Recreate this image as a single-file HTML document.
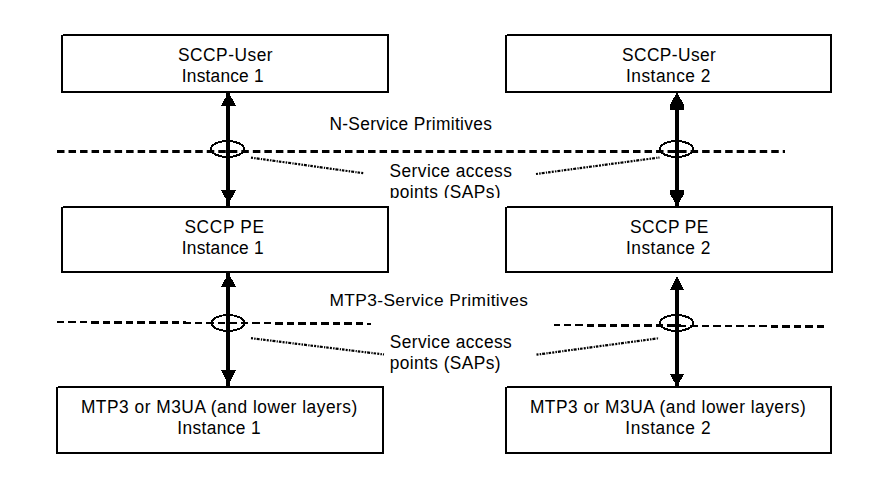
<!DOCTYPE html>
<html><head><meta charset="utf-8"><style>
html,body{margin:0;padding:0;background:#fff;}
body{width:883px;height:492px;overflow:hidden;position:relative;}
svg{position:absolute;left:0;top:0;}
text{font-family:"Liberation Sans",sans-serif;font-size:17.33px;fill:#000;}
</style></head><body>
<svg width="883" height="492" viewBox="0 0 883 492">
<defs><clipPath id="c1"><rect x="380" y="180" width="140" height="18"/></clipPath></defs>
<rect x="62" y="35" width="326" height="57" fill="none" stroke="#000" stroke-width="2"/>
<rect x="506" y="35" width="325" height="57" fill="none" stroke="#000" stroke-width="2"/>
<rect x="62" y="207" width="326" height="65" fill="none" stroke="#000" stroke-width="2"/>
<rect x="506" y="207" width="326" height="65" fill="none" stroke="#000" stroke-width="2"/>
<rect x="57" y="387" width="326" height="66" fill="none" stroke="#000" stroke-width="2"/>
<rect x="506" y="387" width="325" height="66" fill="none" stroke="#000" stroke-width="2"/>
<rect x="61" y="34" width="2" height="1" fill="#fff"/>
<rect x="505" y="34" width="2" height="1" fill="#fff"/>
<rect x="61" y="206" width="2" height="1" fill="#fff"/>
<rect x="505" y="206" width="2" height="1" fill="#fff"/>
<rect x="56" y="386" width="2" height="1" fill="#fff"/>
<rect x="505" y="386" width="2" height="1" fill="#fff"/>
<rect x="226" y="93" width="4" height="113" fill="#000"/>
<rect x="675" y="105" width="4" height="101" fill="#000"/>
<rect x="226" y="273" width="4" height="113" fill="#000"/>
<rect x="675" y="289" width="4" height="97" fill="#000"/>
<polygon points="221,106 236,106 228.5,92" fill="#000" shape-rendering="crispEdges"/>
<polygon points="221,190 236,190 228.5,204" fill="#000" shape-rendering="crispEdges"/>
<polygon points="670,110 684,110 684,105 677,92 670,105" fill="#000" shape-rendering="crispEdges"/>
<polygon points="670,190 684,190 684,194 677,206 670,194" fill="#000" shape-rendering="crispEdges"/>
<polygon points="221,287 236,287 228.5,273" fill="#000" shape-rendering="crispEdges"/>
<polygon points="221,370 236,370 228.5,385" fill="#000" shape-rendering="crispEdges"/>
<polygon points="670,290 684,290 677,276" fill="#000" shape-rendering="crispEdges"/>
<polygon points="670,374 684,374 677,387" fill="#000" shape-rendering="crispEdges"/>
<line x1="57" y1="151.5" x2="785" y2="151.5" stroke="#000" stroke-width="3" stroke-dasharray="7.5 4.02"/>
<line x1="57" y1="322.06" x2="371" y2="323.79" stroke="#000" stroke-width="2.53" stroke-dasharray="7.5 4" shape-rendering="crispEdges"/>
<line x1="554" y1="325.07" x2="824" y2="326.56" stroke="#000" stroke-width="2.53" stroke-dasharray="7.5 4" stroke-dashoffset="1.7" shape-rendering="crispEdges"/>
<ellipse cx="227.5" cy="149" rx="16.5" ry="8" fill="none" stroke="#000" stroke-width="2" shape-rendering="crispEdges"/>
<ellipse cx="676.5" cy="149" rx="16.5" ry="8" fill="none" stroke="#000" stroke-width="2" shape-rendering="crispEdges"/>
<ellipse cx="228" cy="323" rx="16.5" ry="8" fill="none" stroke="#000" stroke-width="2" shape-rendering="crispEdges"/>
<ellipse cx="676.5" cy="323" rx="16.5" ry="8" fill="none" stroke="#000" stroke-width="2" shape-rendering="crispEdges"/>
<line x1="251" y1="157.6" x2="364" y2="173.3" stroke="#000" stroke-width="2.2" stroke-dasharray="2 1.2 1.5 1 3 1.3 1.2 1 2.5 1.2"/>
<line x1="536" y1="174" x2="659.5" y2="157.5" stroke="#000" stroke-width="2.2" stroke-dasharray="2 1.2 1.5 1 3 1.3 1.2 1 2.5 1.2"/>
<line x1="251" y1="338.2" x2="384" y2="354.5" stroke="#000" stroke-width="2.2" stroke-dasharray="2 1.2 1.5 1 3 1.3 1.2 1 2.5 1.2"/>
<line x1="536.5" y1="354.7" x2="659" y2="338.2" stroke="#000" stroke-width="2.2" stroke-dasharray="2 1.2 1.5 1 3 1.3 1.2 1 2.5 1.2"/>
<text transform="translate(177.9 61.0) scale(1 1.06)" letter-spacing="0.53">SCCP-User</text>
<text transform="translate(181.8 81.6) scale(1 1.06)" letter-spacing="0.21">Instance 1</text>
<text transform="translate(622.0 61.0) scale(1 1.06)" letter-spacing="0.42">SCCP-User</text>
<text transform="translate(626.0 81.6) scale(1 1.06)" letter-spacing="0.5">Instance 2</text>
<text transform="translate(329.4 129.7) scale(1 1.06)" letter-spacing="0.35">N-Service Primitives</text>
<text transform="translate(389.5 176.6) scale(1 1.06)" letter-spacing="0.45">Service access</text>
<text transform="translate(184.4 232.6) scale(1 1.06)" letter-spacing="0.66">SCCP PE</text>
<text transform="translate(181.8 253.7) scale(1 1.06)" letter-spacing="0.21">Instance 1</text>
<text transform="translate(630.0 232.6) scale(1 1.06)" letter-spacing="0.45">SCCP PE</text>
<text transform="translate(626.0 253.7) scale(1 1.06)" letter-spacing="0.5">Instance 2</text>
<text transform="translate(329.4 305.8) scale(1 1.0)" letter-spacing="0.4">MTP3-Service Primitives</text>
<text transform="translate(389.7 347.9) scale(1 1.06)" letter-spacing="0.43">Service access</text>
<text transform="translate(389.7 368.8) scale(1 1.06)" letter-spacing="0.42">points (SAPs)</text>
<text transform="translate(80.9 413.1) scale(1 1.06)" letter-spacing="0.52">MTP3 or M3UA (and lower layers)</text>
<text transform="translate(177.3 434.3) scale(1 1.06)" letter-spacing="0.37">Instance 1</text>
<text transform="translate(529.9 413.1) scale(1 1.06)" letter-spacing="0.5">MTP3 or M3UA (and lower layers)</text>
<text transform="translate(625.3 434.3) scale(1 1.06)" letter-spacing="0.59">Instance 2</text>
<g clip-path="url(#c1)"><text transform="translate(389.7 197.8) scale(1 1.06)" letter-spacing="0.42">points (SAPs)</text></g>
</svg>
</body></html>
